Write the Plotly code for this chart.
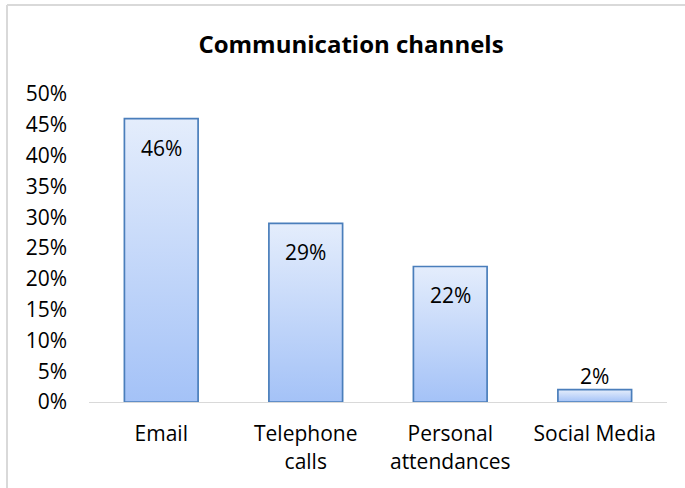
import plotly.graph_objects as go

# Survey results: preferred communication channels
categories = ["Email", "Telephone calls", "Personal attendances", "Social Media"]
tick_labels = ["Email", "Telephone<br>calls", "Personal<br>attendances", "Social Media"]
shares = [0.46, 0.29, 0.22, 0.02]

FONT = "Open Sans"
LABEL_SIZE = 21
BAR_WIDTH = 0.51
EDGE = "#4A7EBB"
TOP_COLOR = "#E4EDFC"
BOTTOM_COLOR = "#A4C2F7"

fig = go.Figure()

# each bar is a closed rectangle filled with a vertical gradient
for i, (name, v) in enumerate(zip(categories, shares)):
    x0, x1 = i - BAR_WIDTH / 2, i + BAR_WIDTH / 2
    fig.add_trace(go.Scatter(
        x=[x0, x0, x1, x1, x0],
        y=[0, v, v, 0, 0],
        mode="lines",
        fill="toself",
        fillgradient=dict(type="vertical",
                          colorscale=[[0, BOTTOM_COLOR], [1, TOP_COLOR]]),
        line=dict(color=EDGE, width=1.7),
        name=name,
        hoverinfo="skip",
        showlegend=False,
    ))

# value labels: inside the top of tall bars, just above short ones
annotations = []
for i, v in enumerate(shares):
    inside = v >= 0.05
    annotations.append(dict(
        x=i, y=v, xref="x", yref="y",
        text=f"{v:.0%}", showarrow=False,
        yshift=-29 if inside else 14,
        font=dict(family=FONT, size=LABEL_SIZE, color="#000000"),
    ))

fig.update_layout(
    width=685, height=488,
    margin=dict(l=89, r=18, t=94, b=86),
    paper_bgcolor="white", plot_bgcolor="white",
    title=dict(text="<b>Communication channels</b>",
               x=0.5124, xref="container", xanchor="center",
               y=0.908, yref="container", yanchor="middle",
               font=dict(family=FONT, size=24, color="#000000")),
    annotations=annotations,
    showlegend=False,
    shapes=[
        # chart frame edges
        dict(type="line", xref="paper", yref="paper",
             x0=-0.1419, x1=1.04, y0=1.289, y1=1.289,
             line=dict(color="#D9D9D9", width=2)),
        dict(type="line", xref="paper", yref="paper",
             x0=-0.1419, x1=-0.1419, y0=1.289, y1=-0.3,
             line=dict(color="#D9D9D9", width=2)),
    ],
)

fig.update_xaxes(
    range=[-0.5, len(categories) - 0.5],
    tickvals=list(range(len(categories))),
    ticktext=tick_labels,
    showgrid=False, zeroline=False,
    showline=True, linecolor="#D9D9D9", linewidth=1,
    ticks="", ticklabelstandoff=13,
    tickfont=dict(family=FONT, size=LABEL_SIZE, color="#000000"),
)
fig.update_yaxes(
    range=[0, 0.5], dtick=0.05, tick0=0, tickformat=".0%",
    showgrid=False, zeroline=False, showline=False,
    ticks="", ticklabelstandoff=21,
    tickfont=dict(family=FONT, size=LABEL_SIZE, color="#000000"),
)

fig.write_html("out.html")
